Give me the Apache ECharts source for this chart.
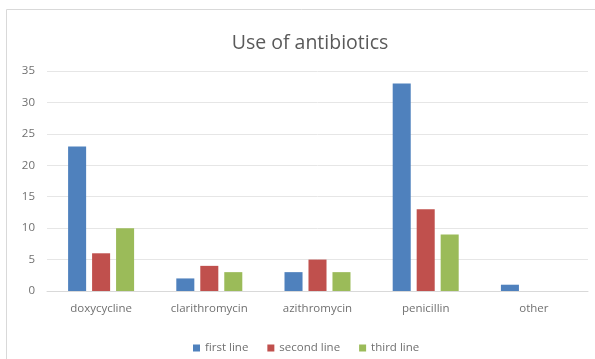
<!DOCTYPE html>
<html>
<head>
<meta charset="utf-8">
<script src="https://cdn.jsdelivr.net/npm/echarts@6/dist/echarts.min.js"></script>
<style>
  html, body { margin: 0; padding: 0; background: #fff; }
  #chart { width: 595px; height: 359px; }
</style>
</head>
<body>
<div id="chart"></div>
<script>
// Antibiotic use by drug and line of therapy
const categories = ['doxycycline', 'clarithromycin', 'azithromycin', 'penicillin', 'other'];
const firstLine = [23, 2, 3, 33, 1];
const secondLine = [6, 4, 5, 13, 0];
const thirdLine = [10, 3, 3, 9, 0];
const seriesNames = ['first line', 'second line', 'third line'];
const yTicks = { min: 0, max: 35, interval: 5 };

const colors = ['#4F81BD', '#C0504D', '#9BBB59'];
const textColor = '#707070';
const fontFamily = '"Open Sans", Lato, sans-serif';

const chart = echarts.init(document.getElementById('chart'), null, { renderer: 'canvas' });

const makeSeries = (name, data, i) => ({
  name,
  type: 'bar',
  data,
  itemStyle: { color: colors[i] },
  barGap: '33%',
  barCategoryGap: '39%',
  emphasis: { disabled: true }
});

chart.setOption({
  animation: false,
  textStyle: { fontFamily },
  title: {
    text: 'Use of antibiotics',
    left: 305,
    top: 28,
    textAlign: 'center',
    textStyle: { fontSize: 19.5, fontWeight: 'normal', color: '#5a5a5a', fontFamily }
  },
  graphic: [{
    type: 'rect',
    shape: { x: 6.5, y: 9.5, width: 620, height: 400 },
    style: { fill: 'none', stroke: '#d9d9d9', lineWidth: 1 },
    silent: true
  }],
  legend: {
    data: seriesNames,
    left: 188,
    top: 337,
    itemWidth: 7,
    itemHeight: 7,
    itemGap: 19,
    icon: 'rect',
    textStyle: { fontSize: 11.5, color: textColor, fontFamily }
  },
  grid: { left: 47, right: 7, top: 71, bottom: 68 },
  xAxis: {
    type: 'category',
    data: categories,
    axisLine: { lineStyle: { color: '#d9d9d9' } },
    axisTick: { show: false },
    axisLabel: { fontSize: 11.5, color: textColor, margin: 12, fontFamily }
  },
  yAxis: {
    type: 'value',
    min: yTicks.min,
    max: yTicks.max,
    interval: yTicks.interval,
    axisLine: { show: false },
    axisTick: { show: false },
    splitLine: { lineStyle: { color: '#e6e6e6' } },
    axisLabel: { fontSize: 11.5, color: textColor, margin: 12, fontFamily }
  },
  series: [
    makeSeries(seriesNames[0], firstLine, 0),
    makeSeries(seriesNames[1], secondLine, 1),
    makeSeries(seriesNames[2], thirdLine, 2)
  ]
});
</script>
</body>
</html>
